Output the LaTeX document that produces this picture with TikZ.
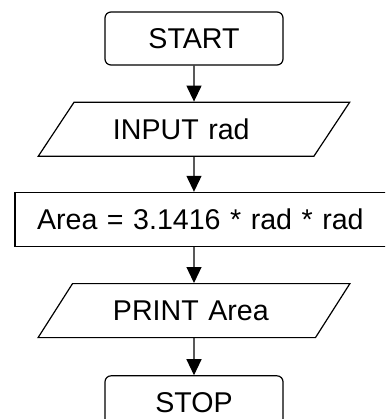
\documentclass[tikz,border=0pt]{standalone}
\usepackage{fontspec}
\setmainfont{Liberation Sans}
\usetikzlibrary{positioning,arrows.meta,shapes.geometric}
\tikzset{
  term/.style={draw, line width=1.2pt, rounded corners=6pt, fill=white,
    minimum width=178pt, minimum height=53pt, inner sep=0pt},
  io/.style={draw, line width=1.2pt, trapezium, trapezium left angle=41,
    trapezium right angle=139, trapezium stretches=true, fill=white,
    minimum width=312pt, minimum height=54pt, inner sep=0pt,
    text width=162pt, align=left},
  proc/.style={draw, line width=1.2pt, fill=white, minimum height=54pt,
    inner xsep=22pt, inner ysep=0pt, text width=341pt, align=left},
  arr/.style={-{Triangle[length=16pt,width=15pt]}, line width=1.2pt},
}

\begin{document}
\begin{tikzpicture}[font=\fontsize{28.6pt}{32pt}\selectfont]
    \useasboundingbox (0,0) rectangle (385pt,-419pt);
    \clip (0,0) rectangle (385pt,-419pt);
    \node[term] (start) at (194pt,-38.5pt) {START};
    \node[io, below=36pt of start] (inpt) {INPUT rad};
    \node[proc, below=35pt of inpt, xshift=13.5pt] (area) {Area = 3.1416 * rad * rad};
    \node[io, below=36pt of area, xshift=-13.5pt] (prnt) {PRINT Area};
    \node[term, below=37pt of prnt] (stop) {STOP};
    \draw[arr] (start) -- (inpt);
    \draw[arr] (inpt) -- (inpt |- area.north);
    \draw[arr] (area.south -| prnt) -- (prnt);
    \draw[arr] (prnt) -- (stop);
  \end{tikzpicture}
\end{document}
